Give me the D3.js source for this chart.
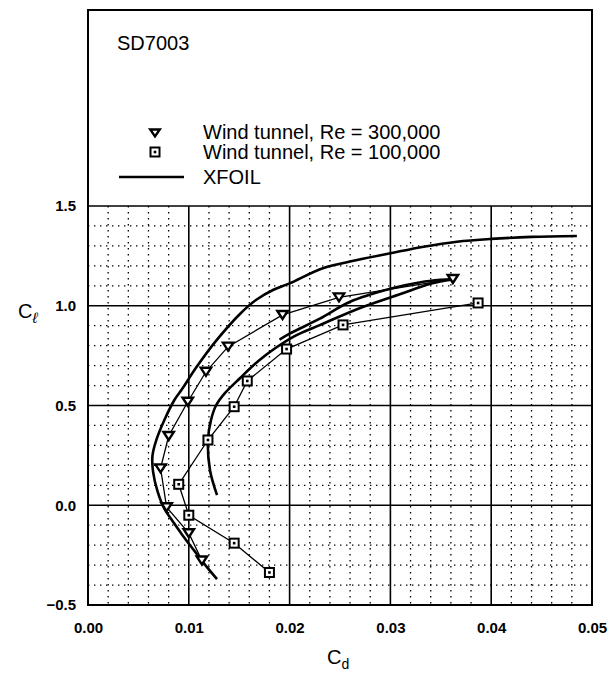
<!DOCTYPE html>
<html>
<head>
<meta charset="utf-8">
<script src="https://cdn.jsdelivr.net/npm/d3@7"></script>
<style>
  html, body { margin: 0; padding: 0; background: #fff; }
  svg { display: block; }
  text { font-family: "Liberation Sans", Arial, Helvetica, sans-serif; fill: #000; }
</style>
</head>
<body>
<svg id="chart" width="611" height="679"></svg>
<script>
// SD7003 drag polar: lift coefficient vs drag coefficient

const cdTicks = [0.00, 0.01, 0.02, 0.03, 0.04, 0.05];
const clTicks = [-0.5, 0.0, 0.5, 1.0, 1.5];

// Wind tunnel, Re = 300,000
const re300Cd = [0.0113, 0.0100, 0.0078, 0.0072, 0.0080, 0.0099, 0.0117, 0.0139, 0.0193, 0.0249, 0.0362];
const re300Cl = [-0.277, -0.14, -0.01, 0.185, 0.347, 0.519, 0.669, 0.795, 0.954, 1.042, 1.134];

// Wind tunnel, Re = 100,000
const re100Cd = [0.0180, 0.0145, 0.0100, 0.0090, 0.0119, 0.0145, 0.0158, 0.0197, 0.0253, 0.0387];
const re100Cl = [-0.337, -0.19, -0.05, 0.105, 0.327, 0.494, 0.623, 0.783, 0.904, 1.014];

// XFOIL prediction, Re = 300,000
const xfoil300Cd = [0.0128, 0.0118, 0.0105, 0.0093, 0.0084, 0.0076, 0.0069, 0.00645, 0.0064, 0.0068, 0.0076, 0.0086, 0.0093, 0.0108, 0.0128, 0.0151, 0.0167, 0.0184, 0.0200, 0.0233, 0.0267, 0.0300, 0.0333, 0.0366, 0.0400, 0.0440, 0.0485];
const xfoil300Cl = [-0.37, -0.31, -0.225, -0.145, -0.08, -0.02, 0.07, 0.17, 0.25, 0.33, 0.43, 0.53, 0.58, 0.695, 0.83, 0.96, 1.03, 1.08, 1.112, 1.188, 1.229, 1.263, 1.296, 1.321, 1.335, 1.345, 1.35];

// XFOIL prediction, Re = 100,000 (runs out to stall and back)
const xfoil100Cd = [0.0128, 0.0121, 0.0119, 0.0122, 0.0127, 0.0136, 0.0151, 0.0169, 0.0186, 0.0205, 0.0230, 0.0270, 0.0310, 0.0339, 0.0362, 0.0330, 0.0300, 0.0260, 0.0230, 0.0200, 0.0190];
const xfoil100Cl = [0.051, 0.177, 0.327, 0.427, 0.50, 0.563, 0.638, 0.723, 0.788, 0.848, 0.903, 0.989, 1.059, 1.109, 1.134, 1.118, 1.085, 1.02, 0.935, 0.86, 0.83];

const legendTitle = "SD7003";
const legendLabels = ["Wind tunnel, Re = 300,000", "Wind tunnel, Re = 100,000", "XFOIL"];

const svg = d3.select("#chart");

const x = d3.scaleLinear().domain([0, 0.05]).range([88, 592]);
const y = d3.scaleLinear().domain([-0.5, 1.5]).range([605, 206]);
const frameTop = 10;

// minor grid (dotted)
const minorX = d3.range(0, 0.0501, 0.002).filter(v => Math.abs(v / 0.01 - Math.round(v / 0.01)) > 1e-6);
const minorY = d3.range(-0.5, 1.501, 0.1).filter(v => Math.abs(v / 0.5 - Math.round(v / 0.5)) > 1e-6);

const grid = svg.append("g");
grid.selectAll(".mx").data(minorX).enter().append("line")
  .attr("x1", d => x(d)).attr("x2", d => x(d))
  .attr("y1", y(1.5)).attr("y2", y(-0.5))
  .attr("stroke", "#000").attr("stroke-width", 1.3)
  .attr("stroke-dasharray", "1.4,4.6");
grid.selectAll(".my").data(minorY).enter().append("line")
  .attr("x1", x(0)).attr("x2", x(0.05))
  .attr("y1", d => y(d)).attr("y2", d => y(d))
  .attr("stroke", "#000").attr("stroke-width", 1.3)
  .attr("stroke-dasharray", "1.4,4.6");

// major grid (solid)
grid.selectAll(".MX").data(cdTicks).enter().append("line")
  .attr("x1", d => x(d)).attr("x2", d => x(d))
  .attr("y1", y(1.5)).attr("y2", y(-0.5))
  .attr("stroke", "#000").attr("stroke-width", 1.6);
grid.selectAll(".MY").data(clTicks).enter().append("line")
  .attr("x1", x(0)).attr("x2", x(0.05))
  .attr("y1", d => y(d)).attr("y2", d => y(d))
  .attr("stroke", "#000").attr("stroke-width", 1.6);

// outer frame including legend panel
svg.append("rect")
  .attr("x", x(0)).attr("y", frameTop)
  .attr("width", x(0.05) - x(0)).attr("height", y(-0.5) - frameTop)
  .attr("fill", "none").attr("stroke", "#000").attr("stroke-width", 2);

// axes tick labels
const xAxis = d3.axisBottom(x).tickValues(cdTicks).tickFormat(d3.format(".2f")).tickSize(0).tickPadding(17);
const yAxis = d3.axisLeft(y).tickValues(clTicks).tickFormat(d3.format(".1f")).tickSize(0).tickPadding(12);

const gx = svg.append("g").attr("transform", `translate(0,${y(-0.5)})`).call(xAxis);
const gy = svg.append("g").attr("transform", `translate(${x(0)},0)`).call(yAxis);
[gx, gy].forEach(g => {
  g.select(".domain").remove();
  g.selectAll("text")
    .style("font-family", '"Liberation Sans", Arial, sans-serif')
    .style("font-size", "15px").style("font-weight", "bold").attr("fill", "#000");
});

// axis titles
const xt = svg.append("text").attr("x", 327).attr("y", 664).style("font-size", "20px");
xt.append("tspan").text("C");
xt.append("tspan").text("d").style("font-size", "14px").attr("dy", 5);

const yt = svg.append("text").attr("x", 18).attr("y", 318).style("font-size", "20px");
yt.append("tspan").text("C");
yt.append("tspan").text("ℓ").style("font-size", "15px").style("font-style", "italic").attr("dy", 5);

// curves
const line = d3.line().x(d => x(d[0])).y(d => y(d[1]));
const smooth = d3.line().x(d => x(d[0])).y(d => y(d[1])).curve(d3.curveCatmullRom.alpha(0.5));

const plot = svg.append("g");
const zip = (a, b) => a.map((v, i) => [v, b[i]]);

plot.append("path").datum(zip(xfoil300Cd, xfoil300Cl))
  .attr("d", smooth).attr("fill", "none").attr("stroke", "#000").attr("stroke-width", 2.6)
  .attr("stroke-linejoin", "round");
plot.append("path").datum(zip(xfoil100Cd, xfoil100Cl))
  .attr("d", smooth).attr("fill", "none").attr("stroke", "#000").attr("stroke-width", 2.6)
  .attr("stroke-linejoin", "round");

plot.append("path").datum(zip(re300Cd, re300Cl))
  .attr("d", line).attr("fill", "none").attr("stroke", "#000").attr("stroke-width", 1.3);
plot.append("path").datum(zip(re100Cd, re100Cl))
  .attr("d", line).attr("fill", "none").attr("stroke", "#000").attr("stroke-width", 1.3);

// markers
function triangle(g, cx, cy, w, h) {
  g.append("path")
    .attr("d", `M${cx - w},${cy - h / 2}L${cx + w},${cy - h / 2}L${cx},${cy + h / 2}Z`)
    .attr("fill", "#fff").attr("stroke", "#000").attr("stroke-width", 2.4)
    .attr("stroke-linejoin", "miter");
}
function square(g, cx, cy) {
  const s = 9;
  g.append("rect").attr("x", cx - s / 2).attr("y", cy - s / 2).attr("width", s).attr("height", s)
    .attr("fill", "#fff").attr("stroke", "#000").attr("stroke-width", 2);
  g.append("rect").attr("x", cx - 1.3).attr("y", cy - 1.3).attr("width", 2.6).attr("height", 2.6)
    .attr("fill", "#000");
}

const marks = svg.append("g");
re300Cd.forEach((d, i) => triangle(marks, x(d), y(re300Cl[i]), 5.2, 8));
re100Cd.forEach((d, i) => square(marks, x(d), y(re100Cl[i])));

// legend panel
const leg = svg.append("g");
leg.append("text").attr("x", 117).attr("y", 50).style("font-size", "20px").text(legendTitle);
const rowY = [132, 152, 177];
triangle(leg, 155, rowY[0] + 1, 4.8, 7);
square(leg, 155, rowY[1]);
leg.append("line").attr("x1", 119).attr("x2", 184).attr("y1", rowY[2]).attr("y2", rowY[2])
  .attr("stroke", "#000").attr("stroke-width", 2.4);
legendLabels.forEach((t, i) => {
  leg.append("text").attr("x", 203).attr("y", rowY[i] + 7)
    .style("font-size", "20px").text(t);
});
</script>
</body>
</html>
